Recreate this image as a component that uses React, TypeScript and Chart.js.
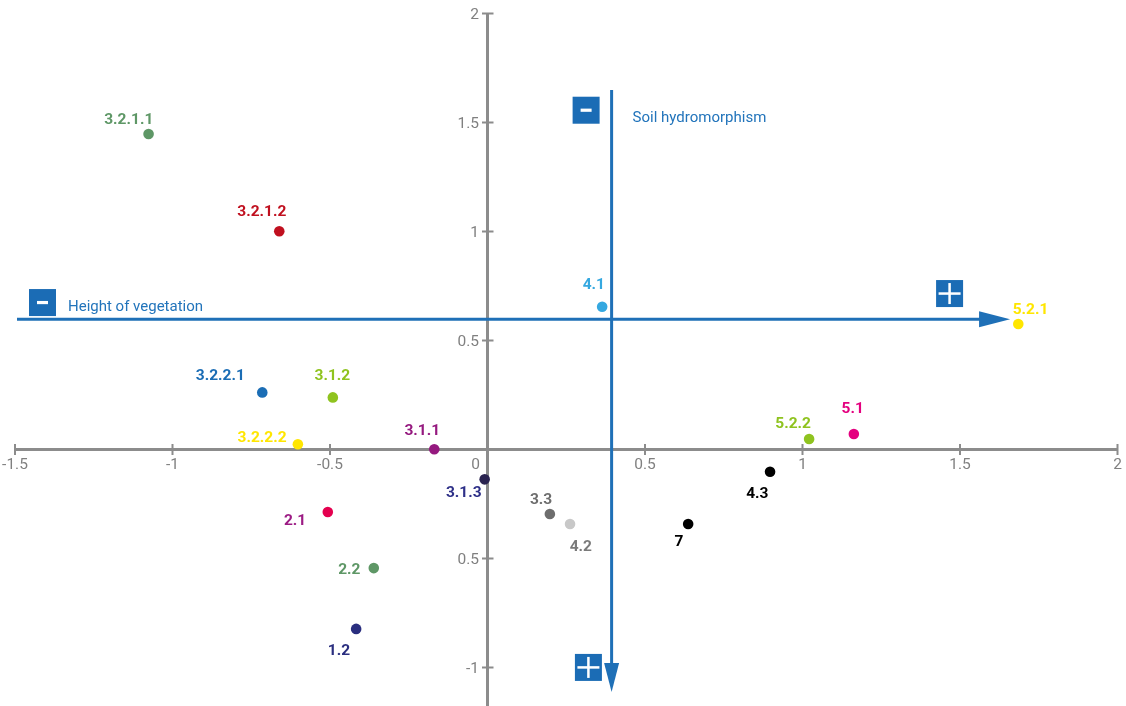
import React, { useEffect, useRef } from 'react';
import { Chart, registerables } from 'chart.js';

Chart.register(...registerables);

// ---- Data ----
const pointLabels = [
  '3.2.1.1', '3.2.1.2', '4.1', '5.2.1', '3.2.2.1', '3.1.2', '3.2.2.2', '3.1.1', '5.2.2',
  '5.1', '4.3', '3.1.3', '3.3', '4.2', '7', '2.1', '2.2', '1.2',
];
const xValues = [
  -1.076, -0.661, 0.364, 1.685, -0.715, -0.491, -0.602, -0.169, 1.021,
  1.163, 0.897, -0.009, 0.198, 0.262, 0.637, -0.507, -0.361, -0.417,
];
const yValues = [
  1.447, 1.001, 0.655, 0.576, 0.262, 0.239, 0.024, 0.001, 0.048,
  0.071, -0.102, -0.137, -0.296, -0.342, -0.342, -0.287, -0.544, -0.823,
];
const pointColors = [
  '#5e9766', '#c0101f', '#35a8e0', '#ffe600', '#1b6db5', '#8fc31f', '#ffe600', '#95197f', '#8fc31f',
  '#e4007f', '#000000', '#2a2350', '#6d6d6d', '#c8c8c8', '#000000', '#e4004f', '#5e9766', '#2a2e7f',
];
const labelColors = [
  '#5e9766', '#c0101f', '#35a8e0', '#ffe600', '#1b6db5', '#8fc31f', '#ffe600', '#95197f', '#8fc31f',
  '#e4007f', '#000000', '#2e3088', '#6d6d6d', '#7a7a7a', '#000000', '#9c1b84', '#5e9766', '#2a2e7f',
];
// label centre offset from its point (px) - styling only
const labelOffsets: [number, number][] = [
  [-19.8, -15.2], [-17.5, -21.3], [-8.3, -22.9], [12.2, -15.7], [-42, -18], [-0.5, -23], [-35.8, -7.6], [-12, -20], [-16, -16.2],
  [-1.2, -26.8], [-12.7, 20.5], [-20.9, 12.4], [-8.8, -16], [10.8, 21.5], [-9.2, 16], [-32.7, 7.7], [-24.5, 0], [-17.2, 20.2],
];

const xTicks = [-1.5, -1, -0.5, 0, 0.5, 1, 1.5, 2];
const xTickLabels = ['-1.5', '-1', '-0.5', '0', '0.5', '1', '1.5', '2'];
const yTicks = [2, 1.5, 1, 0.5, -0.5, -1];
const yTickLabels = ['2', '1.5', '1', '0.5', '0.5', '-1'];

// Interpretation arrows (data coordinates)
const hArrowY = 0.597;
const hArrowFrom = -1.5;
const hArrowTo = 1.659;
const vArrowX = 0.394;
const vArrowFrom = 1.649;
const vArrowTo = -1.112;
const hAxisTitle = 'Height of vegetation';
const vAxisTitle = 'Soil hydromorphism';

const AXIS_COLOR = '#8c8c8c';
const TICK_TEXT = '#808080';
const BLUE = '#1f70b7';
const BOX_BLUE = '#1b6cb5';
const TITLE_BLUE = '#2274bb';
const FONT = 'Roboto, "Noto Sans", sans-serif';

function drawBox(ctx: CanvasRenderingContext2D, x: number, y: number, plus: boolean) {
  const s = 27;
  ctx.fillStyle = BOX_BLUE;
  ctx.fillRect(x, y, s, s);
  ctx.fillStyle = '#ffffff';
  const cx = x + s / 2;
  const cy = y + s / 2;
  if (plus) {
    ctx.fillRect(cx - 11, cy - 1.25, 22, 2.5);
    ctx.fillRect(cx - 1.25, cy - 10.5, 2.5, 21);
  } else {
    ctx.fillRect(cx - 5.5, cy - 1.6, 11, 3.2);
  }
}

const overlayPlugin = {
  id: 'overlay',
  beforeDatasetsDraw(chart: any) {
    const ctx: CanvasRenderingContext2D = chart.ctx;
    const xs = chart.scales.x;
    const ys = chart.scales.y;
    const x0 = xs.getPixelForValue(0);
    const y0 = ys.getPixelForValue(0);
    ctx.save();

    // axes
    ctx.strokeStyle = AXIS_COLOR;
    ctx.lineWidth = 3;
    ctx.beginPath();
    ctx.moveTo(xs.getPixelForValue(-1.5), y0);
    ctx.lineTo(xs.getPixelForValue(2), y0);
    ctx.moveTo(x0, ys.getPixelForValue(2));
    ctx.lineTo(x0, chart.height);
    ctx.stroke();

    ctx.lineWidth = 2;
    ctx.beginPath();
    xTicks.forEach((v) => {
      if (v === 0) return;
      const px = xs.getPixelForValue(v);
      ctx.moveTo(px, y0 - 5.5);
      ctx.lineTo(px, y0 + 5.5);
    });
    yTicks.forEach((v) => {
      const py = ys.getPixelForValue(v);
      ctx.moveTo(x0 - 5.5, py);
      ctx.lineTo(x0 + 6, py);
    });
    ctx.stroke();

    ctx.fillStyle = TICK_TEXT;
    ctx.font = `15.5px ${FONT}`;
    ctx.textBaseline = 'alphabetic';
    xTicks.forEach((v, i) => {
      const px = v === 0 ? x0 - 12 : xs.getPixelForValue(v);
      ctx.textAlign = 'center';
      ctx.fillText(xTickLabels[i], px, y0 + 13.5 + 5.5);
    });
    yTicks.forEach((v, i) => {
      const py = ys.getPixelForValue(v);
      ctx.textAlign = 'right';
      ctx.fillText(yTickLabels[i], x0 - 8.5, py + 5.5);
    });

    // arrows
    const hy = ys.getPixelForValue(hArrowY);
    const hx0 = xs.getPixelForValue(hArrowFrom) + 2;
    const hx1 = xs.getPixelForValue(hArrowTo);
    const vx = xs.getPixelForValue(vArrowX);
    const vy0 = ys.getPixelForValue(vArrowFrom);
    const vy1 = ys.getPixelForValue(vArrowTo);

    ctx.strokeStyle = BLUE;
    ctx.fillStyle = BLUE;
    ctx.lineWidth = 3;
    ctx.beginPath();
    ctx.moveTo(hx0, hy);
    ctx.lineTo(hx1 - 25, hy);
    ctx.moveTo(vx, vy0);
    ctx.lineTo(vx, vy1 - 24);
    ctx.stroke();

    ctx.beginPath();
    ctx.moveTo(hx1, hy);
    ctx.lineTo(hx1 - 31, hy - 8);
    ctx.lineTo(hx1 - 31, hy + 8);
    ctx.closePath();
    ctx.fill();

    ctx.beginPath();
    ctx.moveTo(vx, vy1);
    ctx.lineTo(vx - 7.5, vy1 - 29);
    ctx.lineTo(vx + 7.5, vy1 - 29);
    ctx.closePath();
    ctx.fill();

    // boxes
    drawBox(ctx, hx0 + 12, hy - 30.3, false);
    drawBox(ctx, hx1 - 74, hy - 39.3, true);
    drawBox(ctx, vx - 39, vy0 + 6.7, false);
    drawBox(ctx, vx - 36.7, vy1 - 38, true);

    // titles
    ctx.fillStyle = TITLE_BLUE;
    ctx.font = `15px ${FONT}`;
    ctx.textAlign = 'left';
    ctx.fillText(hAxisTitle, hx0 + 51, hy - 13.3 + 5.3);
    ctx.fillText(vAxisTitle, vx + 21, vy0 + 27 + 5.3);

    ctx.restore();
  },
  afterDatasetsDraw(chart: any) {
    const ctx: CanvasRenderingContext2D = chart.ctx;
    const xs = chart.scales.x;
    const ys = chart.scales.y;
    ctx.save();
    ctx.font = `bold 15.5px ${FONT}`;
    ctx.textAlign = 'center';
    ctx.textBaseline = 'alphabetic';
    pointLabels.forEach((t, i) => {
      const px = xs.getPixelForValue(xValues[i]);
      const py = ys.getPixelForValue(yValues[i]);
      const [dx, dy] = labelOffsets[i];
      ctx.fillStyle = labelColors[i];
      ctx.fillText(t, px + dx, py + dy + 5.6);
    });
    ctx.restore();
  },
};

export default function App() {
  const canvasRef = useRef<HTMLCanvasElement | null>(null);

  useEffect(() => {
    if (!canvasRef.current) return;
    const chart = new Chart(canvasRef.current, {
      type: 'scatter',
      data: {
        datasets: [
          {
            label: 'Vegetation units',
            data: xValues.map((x, i) => ({ x, y: yValues[i] })),
            pointBackgroundColor: pointColors,
            pointBorderWidth: 0,
            pointRadius: 5.3,
            pointHoverRadius: 5.3,
            clip: false as any,
          },
        ],
      },
      options: {
        animation: false,
        responsive: false,
        layout: { padding: { left: 15, right: 8.5, top: 13.5, bottom: 38.5 } },
        scales: {
          x: { type: 'linear', min: -1.5, max: 2, display: false },
          y: { type: 'linear', min: -1, max: 2, display: false },
        },
        plugins: {
          legend: { display: false },
          tooltip: { enabled: false },
        },
      },
      plugins: [overlayPlugin],
    });
    return () => chart.destroy();
  }, []);

  return (
    <div style={{ position: 'absolute', left: 0, top: 0, width: 1126, height: 706, background: '#fff' }}>
      <canvas ref={canvasRef} width={1126} height={706} />
    </div>
  );
}
